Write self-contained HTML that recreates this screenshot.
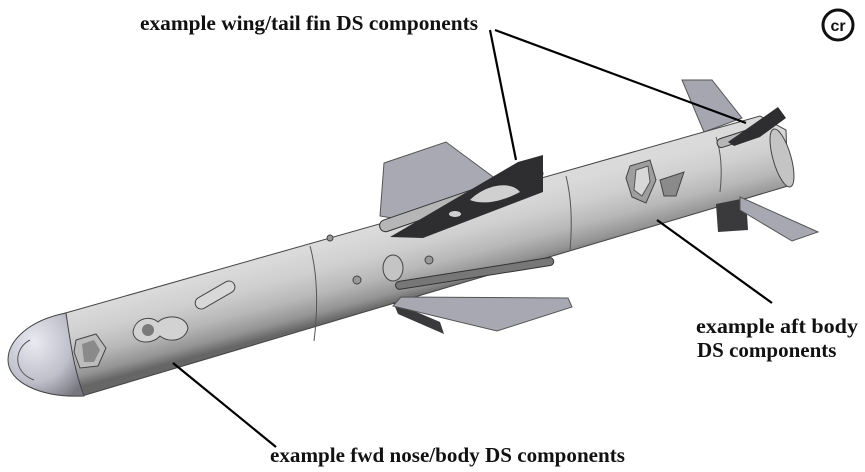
<!DOCTYPE html>
<html><head><meta charset="utf-8"><style>
html,body{margin:0;padding:0;background:#fff}
svg{display:block}
text{font-family:"Liberation Serif",serif;font-weight:bold;fill:#111}
</style></head><body>
<svg width="865" height="472" viewBox="0 0 865 472" xmlns="http://www.w3.org/2000/svg">
<defs>
<linearGradient id="body" gradientUnits="userSpaceOnUse" x1="421" y1="220" x2="440" y2="292">
<stop offset="0" stop-color="#dadada"/><stop offset="0.3" stop-color="#cfcfcf"/><stop offset="0.6" stop-color="#b8b8b8"/><stop offset="0.85" stop-color="#949494"/><stop offset="1" stop-color="#666"/>
</linearGradient>
<radialGradient id="nose" cx="0.35" cy="0.35" r="0.8">
<stop offset="0" stop-color="#eaeaf2"/><stop offset="0.6" stop-color="#bfbfcb"/><stop offset="1" stop-color="#77777f"/>
</radialGradient>
</defs>
<polygon points="384,163 446,142 500,182 472,232 380,216" fill="#a9a9b3" stroke="#555" stroke-width="1"/>
<polygon points="682,80 712,80 742,118 704,132" fill="#a6a6b0" stroke="#555" stroke-width="1"/>
<polygon points="62,314 760,116 786,130 788,186 82,396" fill="url(#body)" stroke="#444" stroke-width="1"/>
<ellipse cx="782" cy="158" rx="9" ry="30" transform="rotate(-16 782 158)" fill="#c4c4c4" stroke="#444"/>
<path d="M66,313 C30,320 8,340 8,360 C8,382 40,398 84,396 C74,370 70,340 66,313 Z" fill="url(#nose)" stroke="#444"/>
<path d="M30,340 C14,348 12,372 34,380" fill="none" stroke="#555"/>
<path d="M310,246 C318,275 318,310 314,341" fill="none" stroke="#555"/>
<path d="M566,176 C572,200 572,228 570,250" fill="none" stroke="#555"/>
<path d="M716,137 C722,155 722,175 720,192" fill="none" stroke="#555"/>
<polygon points="393,302 440,322 444,334 398,314" fill="#3a3a3c"/>
<polygon points="401,297 568,298 572,307 497,331 393,306" fill="#a8a8b2" stroke="#555"/>
<rect x="395" y="282" width="160" height="8" rx="4" transform="rotate(-9 395 282)" fill="#777" stroke="#333"/>
<polygon points="716,204 746,198 748,230 718,232" fill="#3a3a3c"/>
<polygon points="740,197 818,232 792,241 740,210" fill="#a8a8b2" stroke="#555"/>
<rect x="378" y="222" width="172" height="12" rx="6" transform="rotate(-19 378 222)" fill="#b6b6b6" stroke="#333"/>
<polygon points="390,237 518,162 543,155 543,192 423,238" fill="#2e2e30"/>
<path d="M470,200 C485,185 510,180 520,192 C505,200 485,206 470,200Z" fill="#d0d0d0"/>
<ellipse cx="455" cy="214" rx="6" ry="3" fill="#d0d0d0"/>
<rect x="716" y="140" width="46" height="9" rx="4" transform="rotate(-18 716 140)" fill="#b6b6b6" stroke="#333"/>
<polygon points="728,142 778,107 786,118 760,137 734,146" fill="#2e2e30"/>
<polygon points="630,166 650,160 656,180 646,203 632,197 626,178" fill="#9e9e9e" stroke="#444"/>
<polygon points="636,170 648,166 650,182 642,196 634,190" fill="#d8d8d8" stroke="#555"/>
<polygon points="660,180 684,172 676,196 664,196" fill="#8a8a8a" stroke="#444"/>
<ellipse cx="393" cy="268" rx="10" ry="13" fill="#c4c4c4" stroke="#444"/>
<circle cx="357" cy="280" r="4" fill="#999" stroke="#444"/>
<circle cx="429" cy="260" r="4" fill="#999" stroke="#444"/>
<circle cx="330" cy="238" r="3" fill="#999" stroke="#444"/>
<rect x="196" y="300" width="44" height="12" rx="6" transform="rotate(-30 196 306)" fill="#d8d8d8" stroke="#444"/>
<path d="M133,332 C135,318 150,315 158,322 C166,314 186,315 188,328 C186,340 170,344 160,336 C152,345 134,344 133,332Z" fill="#d2d2d2" stroke="#444"/>
<circle cx="148" cy="330" r="6" fill="#7a7a7a"/>
<polygon points="76,340 96,334 106,348 98,366 80,368 74,352" fill="#bcbcbc" stroke="#444"/>
<polygon points="82,344 94,340 100,350 94,362 84,362" fill="#8a8a8a"/>
<g stroke="#000" stroke-width="2.2" fill="none">
<line x1="490" y1="30" x2="516" y2="160"/>
<line x1="495" y1="30" x2="746" y2="123"/>
<line x1="657" y1="220" x2="772" y2="303"/>
<line x1="173" y1="363" x2="276" y2="447"/>
</g>
<text x="140" y="30" font-size="21" textLength="338" lengthAdjust="spacingAndGlyphs">example wing/tail fin DS components</text>
<text x="696" y="333" font-size="21" textLength="162" lengthAdjust="spacingAndGlyphs">example aft body</text>
<text x="697" y="357" font-size="21">DS components</text>
<text x="270" y="462" font-size="21" textLength="355" lengthAdjust="spacingAndGlyphs">example fwd nose/body DS components</text>
<circle cx="838" cy="25" r="15" fill="none" stroke="#111" stroke-width="3"/>
<text x="838" y="31" font-size="16" text-anchor="middle" style="font-family:'Liberation Sans',sans-serif">cr</text>
</svg>
</body></html>
